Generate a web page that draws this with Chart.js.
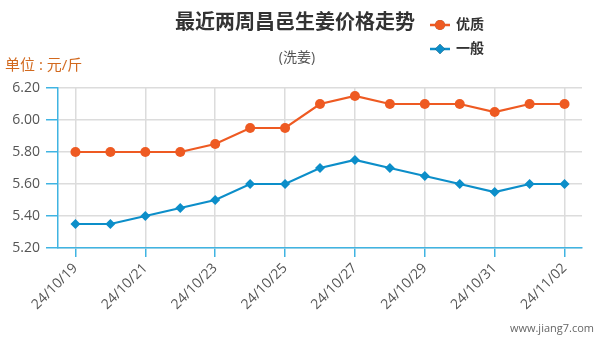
<!DOCTYPE html>
<html>
<head>
<meta charset="utf-8">
<script src="https://cdn.jsdelivr.net/npm/chart.js@4"></script>
<style>
  html, body { margin: 0; padding: 0; background: #fff; }
  #wrap { width: 600px; height: 340px; }
</style>
</head>
<body>
<div id="wrap"><canvas id="priceChart" width="600" height="340"></canvas></div>
<script>
const dates = ["24/10/19", "24/10/20", "24/10/21", "24/10/22", "24/10/23", "24/10/24", "24/10/25",
    "24/10/26", "24/10/27", "24/10/28", "24/10/29", "24/10/30", "24/10/31", "24/11/01", "24/11/02"];
const goodPrice = [5.80, 5.80, 5.80, 5.80, 5.85, 5.95, 5.95, 6.10, 6.15, 6.10, 6.10, 6.10, 6.05, 6.10, 6.10];
const normalPrice = [5.35, 5.35, 5.40, 5.45, 5.50, 5.60, 5.60, 5.70, 5.75, 5.70, 5.65, 5.60, 5.55, 5.60, 5.60];
const yTicks = [5.20, 5.40, 5.60, 5.80, 6.00, 6.20];

const FONT = "'Open Sans', 'Noto Sans CJK SC', sans-serif";
const ORANGE = "#ee5a22";
const BLUE = "#0c8ec9";
const AXIS = "#40b4e2";

// titles, legend, unit and site mark
const decor = {
    id: "decor",
    afterDraw(chart) {
        const ctx = chart.ctx;
        ctx.save();
        ctx.textBaseline = "middle";

        ctx.fillStyle = "#333";
        ctx.font = "bold 20px " + FONT;
        ctx.textAlign = "center";
        ctx.fillText("最近两周昌邑生姜价格走势", 295, 23);

        ctx.fillStyle = "#555";
        ctx.font = "14px " + FONT;
        ctx.fillText("(洗姜)", 297, 58);

        ctx.textAlign = "left";
        ctx.fillStyle = "#d2691e";
        ctx.font = "15px " + FONT;
        ctx.fillText("单位 : 元/斤", 5, 66);

        ctx.fillStyle = "#666";
        ctx.font = "11px " + FONT;
        ctx.textAlign = "right";
        ctx.fillText("www.jiang7.com", 594, 329);

        // legend
        const items = chart.data.datasets;
        items.forEach((ds, i) => {
            const y = 25 + i * 24;
            const x = 430;
            ctx.strokeStyle = ds.borderColor;
            ctx.lineWidth = 2.5;
            ctx.beginPath();
            ctx.moveTo(x, y);
            ctx.lineTo(x + 20, y);
            ctx.stroke();
            Chart.helpers.drawPoint(ctx, {
                pointStyle: ds.pointStyle, rotation: 0, radius: 5, borderWidth: 0
            }, x + 10, y);
            ctx.fillStyle = ds.borderColor;
            ctx.fill();
            ctx.fillStyle = "#333";
            ctx.font = "bold 14px " + FONT;
            ctx.textAlign = "left";
            ctx.fillText(ds.label, x + 26, y);
        });
        ctx.restore();
    }
};

const priceChartConfig = {
    type: "line",
    data: {
        labels: dates,
        datasets: [{
            label: "优质",
            data: goodPrice,
            borderColor: ORANGE,
            backgroundColor: ORANGE,
            borderWidth: 2.2,
            pointStyle: "circle",
            pointRadius: 5,
            pointBorderWidth: 0,
            pointHoverRadius: 5,
        }, {
            label: "一般",
            data: normalPrice,
            borderColor: BLUE,
            backgroundColor: BLUE,
            borderWidth: 2.2,
            pointStyle: "rectRot",
            pointRadius: 5,
            pointBorderWidth: 0,
            pointHoverRadius: 5,
        }],
    },
    options: {
        responsive: false,
        animation: false,
        layout: { padding: { top: 88, right: 18, left: 0, bottom: 0 } },
        plugins: {
            legend: { display: false },
            tooltip: { enabled: false },
        },
        scales: {
            x: {
                offset: true,
                afterFit: (s) => { s.height = 92; },
                border: { color: AXIS, width: 1.5 },
                grid: {
                    offset: false,
                    color: (c) => (c.index % 2 ? "rgba(0,0,0,0)" : "#dcdcdc"),
                    tickColor: (c) => (c.index % 2 ? "rgba(0,0,0,0)" : AXIS),
                    tickLength: 9,
                    lineWidth: 1.5,
                },
                ticks: {
                    autoSkip: false,
                    maxRotation: 45,
                    minRotation: 45,
                    color: "#555",
                    font: { family: FONT, size: 14 },
                    callback: (v, i) => (i % 2 ? "" : dates[i]),
                },
            },
            y: {
                min: 5.2,
                max: 6.2,
                afterFit: (s) => { s.width = 58; },
                afterBuildTicks: (s) => { s.ticks = yTicks.map((v) => ({ value: v })); },
                border: { color: AXIS, width: 1.5 },
                grid: {
                    color: "#dcdcdc",
                    tickColor: AXIS,
                    tickLength: 12,
                    lineWidth: 1.5,
                },
                ticks: {
                    color: "#555",
                    padding: 6,
                    font: { family: FONT, size: 14 },
                    callback: (v) => v.toFixed(2),
                },
            },
        },
    },
    plugins: [decor],
};

const priceChart = new Chart(
    document.getElementById("priceChart"),
    priceChartConfig
);
</script>
</body>
</html>
